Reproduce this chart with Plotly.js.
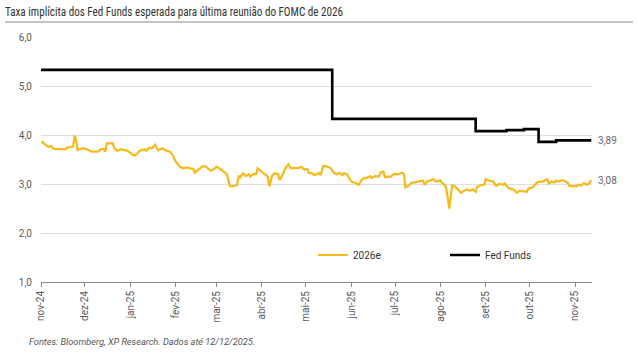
<!DOCTYPE html>
<html>
<head>
<meta charset="utf-8">
<script src="https://cdn.plot.ly/plotly-3.0.1.min.js"></script>
<style>
  html, body { margin: 0; padding: 0; background: #fff; }
  #chart { width: 638px; height: 354px; }
</style>
</head>
<body>
<div id="chart"></div>
<script>
// ---- Data ----
const startDate = '2024-11-01';
// days since startDate for the 2026e series
const diasProj = [0,1,3,5,7,8,10,17,18,21,22,23,24,25,26,29,31,33,35,39,41,43,44,45,49,50,52,55,56,58,60,63,64,66,68,71,72,74,76,78,80,83,85,88,90,92,
  95,97,100,102,104,105,108,110,112,114,116,118,120,122,125,127,129,131,134,135,136,138,140,142,143,145,147,148,150,152,155,156,158,160,162,163,165,167,169,171,174,176,178,180,182,183,
  185,187,190,191,193,196,198,200,202,204,206,207,209,210,212,215,217,219,221,223,225,226,228,231,232,234,235,237,239,241,244,247,248,249,251,253,256,259,261,262,264,266,268,270,273,274,276,277,278,279,280,281,
  283,285,287,289,291,293,295,297,298,300,303,304,306,309,311,313,316,317,319,321,322,324,325,327,330,332,333,336,339,341,343,346,347,349,351,352,354,356,358,360,361,363,366,367,369,371,373,375,376];
const taxa2026e = [3.84,3.86,3.80,3.76,3.78,3.73,3.71,3.71,3.75,3.75,3.78,3.99,3.90,3.69,3.71,3.73,3.71,3.69,3.66,3.66,3.71,3.71,3.66,3.83,3.83,3.74,3.68,3.71,3.69,3.69,3.66,3.59,3.58,3.63,3.69,3.71,3.68,3.74,3.73,3.80,3.69,3.73,3.69,3.66,3.59,3.46,
  3.35,3.32,3.34,3.32,3.31,3.23,3.30,3.35,3.37,3.32,3.27,3.30,3.35,3.32,3.24,3.20,2.96,2.95,2.98,3.17,3.13,3.22,3.16,3.20,3.15,3.20,3.20,3.32,3.27,3.22,3.15,2.95,3.18,3.22,3.20,3.08,3.18,3.32,3.40,3.32,3.32,3.33,3.35,3.29,3.31,3.22,
  3.22,3.18,3.22,3.18,3.37,3.35,3.32,3.23,3.20,3.23,3.18,3.22,3.20,3.14,3.05,3.02,2.98,3.08,3.12,3.13,3.16,3.12,3.16,3.15,3.23,3.25,3.14,3.15,3.15,3.20,3.20,3.23,3.20,2.93,2.96,3.02,3.04,3.06,3.07,2.98,3.05,3.07,3.10,3.05,3.07,3.02,2.98,2.90,2.70,2.50,2.75,2.97,
  2.95,2.88,2.82,2.86,2.89,2.86,2.89,2.84,2.94,2.97,2.99,3.10,3.07,3.05,2.96,3.00,2.99,3.01,2.93,2.89,2.90,2.86,2.82,2.86,2.84,2.84,2.91,2.93,3.03,3.05,3.05,3.10,3.01,3.05,3.03,3.07,3.05,3.08,3.06,3.02,2.96,2.96,2.95,2.99,2.97,3.02,2.98,3.03,3.08];
// Fed Funds (step series)
const diasFed = [0,199,297,318,330,340,352,376];
const fedFunds = [5.33,4.33,4.08,4.10,4.12,3.86,3.89,3.89];
// Axis ticks
const tickDates = ['2024-11-01','2024-12-01','2025-01-01','2025-02-01','2025-03-01','2025-04-01','2025-05-01','2025-06-01','2025-07-01','2025-08-01','2025-09-01','2025-10-01','2025-11-01'];
const tickLabels = ['nov-24','dez-24','jan-25','fev-25','mar-25','abr-25','mai-25','jun-25','jul-25','ago-25','set-25','out-25','nov-25'];
const seriesNames = ['2026e','Fed Funds'];
const titleText = 'Taxa implícita dos Fed Funds esperada para última reunião do FOMC de 2026';
const sourceText = 'Fontes: Bloomberg, XP Research. Dados até 12/12/2025.';

// ---- Build ----
const t0 = Date.parse(startDate + 'T00:00:00Z');
const toDate = d => new Date(t0 + d * 86400000).toISOString().slice(0, 10);
const xProj = diasProj.map(toDate);
const xFed = diasFed.map(toDate);
const endRange = new Date(t0 + 376.5 * 86400000).toISOString().slice(0, 19).replace('T', ' ');

const fmt = v => v.toFixed(2).replace('.', ',');
const lastProj = taxa2026e[taxa2026e.length - 1];
const lastFed = fedFunds[fedFunds.length - 1];

const yellow = '#F5BA1A';
const txt = '#595959';
const baseFont = 'Roboto, "Liberation Sans", Arial, sans-serif';

const traces = [
  { x: xProj, y: taxa2026e, type: 'scatter', mode: 'lines', name: seriesNames[0],
    line: { color: yellow, width: 2.2 }, hoverinfo: 'skip' },
  { x: xFed, y: fedFunds, type: 'scatter', mode: 'lines', name: seriesNames[1],
    line: { color: '#000000', width: 2.6, shape: 'hv' }, hoverinfo: 'skip' }
];

const PW = 551, PH = 245; // plot area size in px (for paper-coordinate conversion)
const layout = {
  width: 638, height: 354,
  margin: { l: 41, r: 46, t: 37, b: 72 },
  paper_bgcolor: '#fff', plot_bgcolor: '#fff',
  separators: ',.',
  font: { family: baseFont, size: 10, color: txt },
  title: { text: titleText, x: 5 / 638, xref: 'container', xanchor: 'left',
           y: 1 - 11 / 354, yref: 'container', yanchor: 'middle',
           font: { family: '"Roboto Condensed", "DejaVu Sans Condensed", Roboto, sans-serif', size: 13, color: '#333' } },
  xaxis: {
    type: 'date', range: [startDate, endRange],
    tickmode: 'array', tickvals: tickDates, ticktext: tickLabels, tickangle: -90,
    ticks: 'outside', ticklen: 4, tickcolor: '#8c8c8c', tickwidth: 1,
    showline: true, linecolor: '#8c8c8c', linewidth: 1,
    showgrid: false, zeroline: false, fixedrange: true,
    tickfont: { size: 10, color: txt }
  },
  yaxis: {
    range: [1, 6], tickmode: 'linear', tick0: 1, dtick: 1, tickformat: '.1f',
    showgrid: true, gridcolor: '#dedede', gridwidth: 1, zeroline: false,
    showline: false, ticks: '', ticklabelstandoff: 8, fixedrange: true,
    tickfont: { size: 10, color: txt }
  },
  showlegend: true,
  legend: {
    orientation: 'h', x: (313 - 41) / PW, xanchor: 'left', y: (282 - 255) / PH, yanchor: 'middle',
    entrywidth: 87, entrywidthmode: 'pixels', itemwidth: 30,
    font: { size: 10, color: '#333' }, bgcolor: 'rgba(0,0,0,0)', traceorder: 'normal'
  },
  annotations: [
    { x: xFed[xFed.length - 1], y: lastFed, xref: 'x', yref: 'y', text: fmt(lastFed),
      showarrow: false, xanchor: 'left', xshift: 5, font: { size: 10, color: '#666' } },
    { x: xProj[xProj.length - 1], y: lastProj, xref: 'x', yref: 'y', text: fmt(lastProj),
      showarrow: false, xanchor: 'left', xshift: 5, font: { size: 10, color: '#666' } },
    { x: (27 - 41) / PW, y: (282 - 341) / PH, xref: 'paper', yref: 'paper', text: sourceText,
      showarrow: false, xanchor: 'left', yanchor: 'middle',
      font: { size: 9.2, color: '#555', style: 'italic' } }
  ],
  shapes: [
    { type: 'line', xref: 'paper', yref: 'paper',
      x0: (5 - 41) / PW, x1: (633 - 41) / PW, y0: (282 - 22) / PH, y1: (282 - 22) / PH,
      line: { color: '#8a8a8a', width: 1 } }
  ]
};

Plotly.newPlot('chart', traces, layout, { displayModeBar: false, staticPlot: true }).then(gd => {
  // The reference title uses a condensed face: compress the real text to its width
  const t = gd.querySelector('.gtitle');
  if (t) {
    const w = t.getComputedTextLength ? t.getComputedTextLength() : 0;
    if (w > 340) {
      t.setAttribute('textLength', 338);
      t.setAttribute('lengthAdjust', 'spacingAndGlyphs');
    }
  }
});
</script>
</body>
</html>
